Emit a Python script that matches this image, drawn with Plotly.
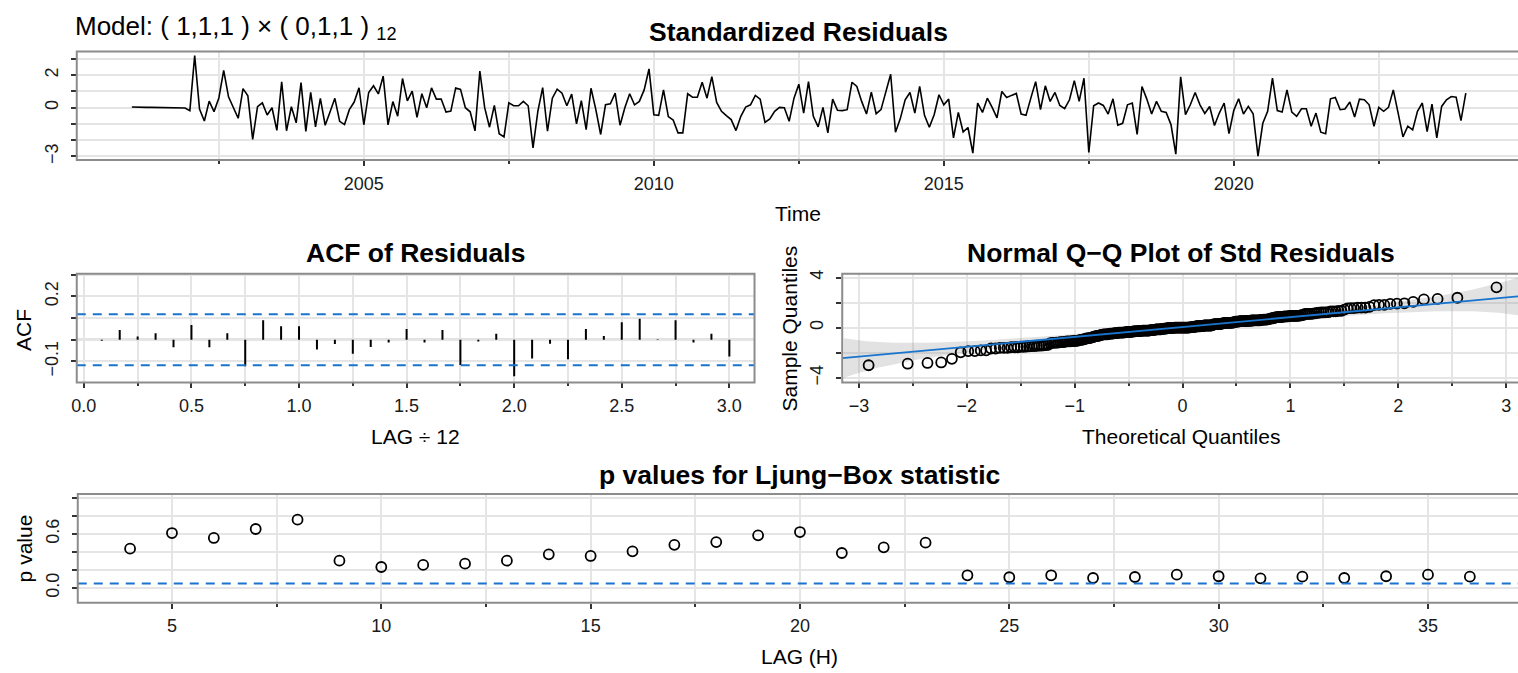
import numpy as np
import plotly.graph_objects as go
from statistics import NormalDist

W, H = 1518, 673

# ---------------- data ----------------
start_year = 2001.0          # monthly series, Jan 2001 .. Jan 2024
std_resid = [
    0.04, 0.02, 0.02, 0.02, 0.02, 0.02, 0.02, 0.02, 0.02, 0.02, 0.01, -0.02,
    -0.18, 3.22, -0.08, -0.82, 0.41, -0.24, 0.60, 2.30, 0.67, -0.04, -0.65, 1.18,
    0.73, -1.95, 0.06, 0.30, -0.45, 0.00, -1.40, 1.60, -1.42, 0.06, -0.93, 1.55,
    -1.46, 0.95, -1.18, 0.58, -1.08, -0.26, 0.58, -0.84, -1.04, -0.12, 0.35, 1.23,
    -1.05, 0.94, 1.35, 0.85, 1.95, -1.06, 0.38, -0.52, 1.80, 0.42, 1.02, -0.60,
    0.86, 0.00, 1.22, 0.53, 0.54, -0.27, -0.21, 1.22, 1.13, 0.00, -0.25, -1.43,
    2.26, 0.00, -1.20, 0.14, -1.60, -1.80, 0.30, 0.12, 0.12, 0.39, 0.12, -2.47,
    -0.22, 1.24, -1.45, 0.59, 1.14, 0.90, 0.12, 0.84, -1.00, 0.43, -1.35, 1.20,
    -0.12, -1.65, 0.18, 0.24, 0.90, -1.08, 0.00, 0.86, 0.18, 0.39, 1.10, 2.39,
    -0.43, -0.47, 1.10, -0.55, -0.76, -1.55, -1.55, 0.86, 0.65, 0.65, 1.57, 0.59,
    1.92, 0.33, -0.22, -0.49, -0.73, -1.41, -0.53, 0.04, 0.18, 0.76, 0.53, -0.90,
    -0.69, -0.22, 0.02, 0.00, -0.84, 0.59, 1.45, -0.33, 1.61, -0.53, -1.18, 0.02,
    -1.55, 0.53, -0.16, -0.18, -0.12, 1.57, 1.31, 0.39, -0.39, 0.96, -0.37, -0.12,
    0.94, 2.06, -1.51, -0.67, 0.49, 0.94, -0.33, 1.31, -0.47, -1.20, -0.43, 0.80,
    0.18, 0.53, -1.86, -0.29, -1.49, -1.22, -2.80, 0.29, -0.29, 0.59, 0.02, -0.63,
    1.00, 0.63, 0.76, 0.88, -0.39, -0.47, 0.59, 1.61, -0.12, 1.35, 0.39, 0.94,
    0.14, -0.06, 0.49, 1.67, 0.39, 1.82, -2.76, 0.12, 0.29, 0.14, -0.39, 0.55,
    -1.08, -0.96, 0.18, 0.29, -1.65, 1.31, 0.53, -0.39, 0.39, -0.22, -0.29, -1.04,
    -2.86, 1.90, -0.43, 0.18, 0.94, 0.18, -0.35, 0.08, -1.10, -0.33, 0.29, -1.60,
    -0.16, 0.55, -0.39, 0.08, -0.37, -2.98, -0.96, -0.22, 1.82, -0.18, -0.27, 1.10,
    -0.27, -0.53, -0.06, -0.06, -1.14, -0.33, -1.51, -1.60, 0.55, 0.63, -0.12, -0.08,
    0.35, -0.57, 0.53, 0.49, 0.18, -1.14, 0.02, -0.22, 0.02, 1.10, -0.33, -1.80,
    -1.14, -1.37, -0.22, 0.29, -1.47, 0.22, -1.86, 0.08, 0.49, 0.69, 0.65, -0.80,
    0.90,
]

acf_lags = list(range(1, 37))
acf_vals = [
    -0.005, 0.045, 0.015, 0.030, -0.035, 0.068, -0.035, 0.030, -0.122, 0.090,
    0.062, 0.062, -0.045, -0.020, -0.065, -0.033, -0.013, 0.050, -0.013, 0.045,
    -0.116, -0.008, 0.028, -0.168, -0.086, -0.018, -0.090, 0.050, 0.017, 0.081,
    0.097, 0.003, 0.090, -0.013, 0.028, -0.077,
]

lb_lags = list(range(4, 37))
lb_pvals = [
    0.437, 0.611, 0.556, 0.656, 0.760, 0.304, 0.233, 0.256, 0.270, 0.304,
    0.374, 0.356, 0.407, 0.480, 0.510, 0.585, 0.622, 0.389, 0.452, 0.504,
    0.141, 0.119, 0.141, 0.111, 0.122, 0.148, 0.130, 0.107, 0.126, 0.111,
    0.130, 0.148, 0.126,
]

# tick labels shown in the reference
top_y_labels = {-3: "\u22123", 0: "0", 2: "2"}
acf_y_labels = {-0.1: "\u22120.1", 0.2: "0.2"}
qq_y_labels = {-4: "\u22124", 0: "0", 4: "4"}
lb_y_labels = {0.0: "0.0", 0.6: "0.6"}

model_text = "Model: ( 1,1,1 ) × ( 0,1,1 ) <sub>12</sub>"

# ---------------- derived quantities ----------------
res = np.array(std_resid, dtype=float)
n = len(res)
t = start_year + np.arange(n) / 12.0
nd = NormalDist()

# Q-Q points and reference line (quartile line)
ordered = np.sort(res)
PP = (np.arange(1, n + 1) - 0.5) / n
z = np.array([nd.inv_cdf(p) for p in PP])
q25, q75 = np.percentile(ordered, [25, 75])
x25, x75 = nd.inv_cdf(0.25), nd.inv_cdf(0.75)
b = (q75 - q25) / (x75 - x25)
a = q25 - b * x25

# confidence envelope over the plotted theoretical range
qx_rng = [-3.155, 3.11]
zg = np.linspace(-3.14, 3.14, 181)
Pg = np.array([nd.cdf(v) for v in zg])
dens_g = np.array([nd.pdf(v) for v in zg])
zz = nd.inv_cdf(1 - (1 - 0.999) / 2)
SEg = (b / dens_g) * np.sqrt(Pg * (1 - Pg) / n)
fit_g = a + b * zg
upp = fit_g + zz * SEg
low = fit_g - zz * SEg

acf_bound = nd.inv_cdf(0.975) / np.sqrt(n)

# ---------------- geometry helpers ----------------
def px(x):
    return x / W

def py(y):
    return 1 - y / H

TOP = dict(x=(72, W), y=(48, 158))
ACF = dict(x=(72, 752), y=(273, 383))
QQ = dict(x=(840, W), y=(273, 383))
LB = dict(x=(73, W), y=(496, 606))

FONT = "Liberation Sans, Arial, Helvetica, sans-serif"
GRID = "#e5e5e5"
BORDER = "#8c8c8c"
TICKC = "#333333"
BLUE = "#1874CD"
TICKFONT = dict(family=FONT, size=18, color="#1a1a1a")


def minor(t0, dt, ln=3):
    return dict(tick0=t0, dtick=dt, ticks="outside", ticklen=ln, tickwidth=1.5,
                tickcolor=TICKC, showgrid=True, gridcolor=GRID, gridwidth=2)


def xaxis(box, rng, anchor, **kw):
    d = dict(domain=[px(box["x"][0]), px(box["x"][1])], range=rng, anchor=anchor,
             showline=False, zeroline=False, ticks="outside", ticklen=5, tickwidth=1.5,
             tickcolor=TICKC, showgrid=True, gridcolor=GRID, gridwidth=2,
             tickfont=TICKFONT, ticklabelstandoff=2, fixedrange=True)
    d.update(kw)
    return d


def yaxis(box, rng, anchor, labels, minor_dt, **kw):
    vals = list(labels.keys())
    d = dict(domain=[py(box["y"][1]), py(box["y"][0])], range=rng, anchor=anchor,
             showline=False, zeroline=False, ticks="outside", ticklen=5, tickwidth=1.5,
             tickcolor=TICKC, showgrid=True, gridcolor=GRID, gridwidth=2,
             tickfont=TICKFONT, tickmode="array", tickvals=vals,
             ticktext=[labels[v] for v in vals], tickangle=-90, ticklabelstandoff=6,
             minor=minor(0, minor_dt, 5), fixedrange=True)
    d.update(kw)
    return d


fig = go.Figure()

# 1. standardized residuals
fig.add_trace(go.Scatter(x=t, y=res, mode="lines", line=dict(color="black", width=1.6),
                         xaxis="x", yaxis="y", hoverinfo="skip"))

# 2. ACF spikes
ax_x, ax_y = [], []
for lag, v in zip(acf_lags, acf_vals):
    ax_x += [lag / 12, lag / 12, None]
    ax_y += [0, v, None]
fig.add_trace(go.Scatter(x=ax_x, y=ax_y, mode="lines", line=dict(color="black", width=2),
                         xaxis="x2", yaxis="y2", hoverinfo="skip"))

# 3. Q-Q band, points and line
fig.add_trace(go.Scatter(x=np.concatenate([zg, zg[::-1]]), y=np.concatenate([upp, low[::-1]]),
                         fill="toself", fillcolor="rgba(150,150,150,0.28)", line=dict(width=0),
                         mode="lines", xaxis="x3", yaxis="y3", hoverinfo="skip"))
fig.add_trace(go.Scatter(x=z, y=ordered, mode="markers",
                         marker=dict(symbol="circle-open", size=10, color="black",
                                     line=dict(width=1.8, color="black")),
                         xaxis="x3", yaxis="y3", hoverinfo="skip"))
fig.add_trace(go.Scatter(x=qx_rng, y=[a + b * qx_rng[0], a + b * qx_rng[1]], mode="lines",
                         line=dict(color=BLUE, width=1.8), xaxis="x3", yaxis="y3",
                         hoverinfo="skip"))

# 4. Ljung-Box p values
fig.add_trace(go.Scatter(x=lb_lags, y=lb_pvals, mode="markers",
                         marker=dict(symbol="circle-open", size=10, color="black",
                                     line=dict(width=1.8, color="black")),
                         xaxis="x4", yaxis="y4", hoverinfo="skip"))

shapes = []
shapes.append(dict(type="line", xref="x2 domain", yref="y2", x0=0, x1=1, y0=0, y1=0,
                   line=dict(color=BORDER, width=2), layer="below"))
for s in (acf_bound, -acf_bound):
    shapes.append(dict(type="line", xref="x2 domain", yref="y2", x0=0, x1=1, y0=s, y1=s,
                       line=dict(color=BLUE, width=2, dash="9px,7px")))
shapes.append(dict(type="line", xref="x4 domain", yref="y4", x0=0, x1=1, y0=0.05, y1=0.05,
                   line=dict(color=BLUE, width=2, dash="9px,7px")))
for box in (TOP, ACF, QQ, LB):
    x1 = box["x"][1] + (6 if box["x"][1] >= W else 0)
    shapes.append(dict(type="rect", xref="paper", yref="paper",
                       x0=px(box["x"][0]), x1=px(x1), y0=py(box["y"][1]), y1=py(box["y"][0]),
                       line=dict(color=BORDER, width=2), fillcolor="rgba(0,0,0,0)", layer="above"))


def ann(text, x, y, size=21, bold=False, angle=0, xanchor="center"):
    return dict(text=f"<b>{text}</b>" if bold else text, x=px(x), y=py(y), xref="paper",
                yref="paper", showarrow=False, textangle=angle, xanchor=xanchor,
                yanchor="middle", font=dict(family=FONT, size=size, color="black"))


TS = 26.5
annotations = [
    ann(model_text, 68, 24, size=26, xanchor="left"),
    ann("Standardized Residuals", 796, 28, size=TS, bold=True),
    ann("Time", 796, 212),
    ann("ACF of Residuals", 412, 252, size=TS, bold=True),
    ann("Normal Q\u2212Q Plot of Std Residuals", 1180, 252, size=TS, bold=True),
    ann("LAG \u00f7 12", 412, 438),
    ann("Theoretical Quantiles", 1180, 438),
    ann("ACF", 18, 330, angle=-90),
    ann("Sample Quantiles", 787, 328, angle=-90),
    ann("p values for Ljung\u2212Box statistic", 797, 477, size=TS, bold=True),
    ann("LAG (H)", 797, 660),
    ann("p value", 20, 551, angle=-90),
]

fig.update_layout(
    width=W, height=H, margin=dict(l=0, r=0, t=0, b=0),
    paper_bgcolor="white", plot_bgcolor="white", showlegend=False,
    font=dict(family=FONT, color="black"),
    xaxis=xaxis(TOP, [2000.05, 2024.9], "y", tickmode="linear", tick0=2005, dtick=5,
                minor=minor(2000, 2.5)),
    yaxis=yaxis(TOP, [-3.23, 3.47], "x", top_y_labels, 1),
    xaxis2=xaxis(ACF, [-0.033, 3.117], "y2", tickmode="linear", tick0=0, dtick=0.5,
                 tickformat=".1f", minor=minor(0, 0.25)),
    yaxis2=yaxis(ACF, [-0.197, 0.305], "x2", acf_y_labels, 0.1),
    xaxis3=xaxis(QQ, qx_rng, "y3", tickmode="linear", tick0=0, dtick=1,
                 minor=minor(0, 0.5)),
    yaxis3=yaxis(QQ, [-4.35, 4.3], "x3", qq_y_labels, 2),
    xaxis4=xaxis(LB, [2.75, 37.15], "y4", tickmode="linear", tick0=0, dtick=5,
                 minor=minor(0, 2.5)),
    yaxis4=yaxis(LB, [-0.165, 1.044], "x4", lb_y_labels, 0.2),
    shapes=shapes,
    annotations=annotations,
)

fig.write_html("out.html", include_plotlyjs=True, config={"displayModeBar": False})
